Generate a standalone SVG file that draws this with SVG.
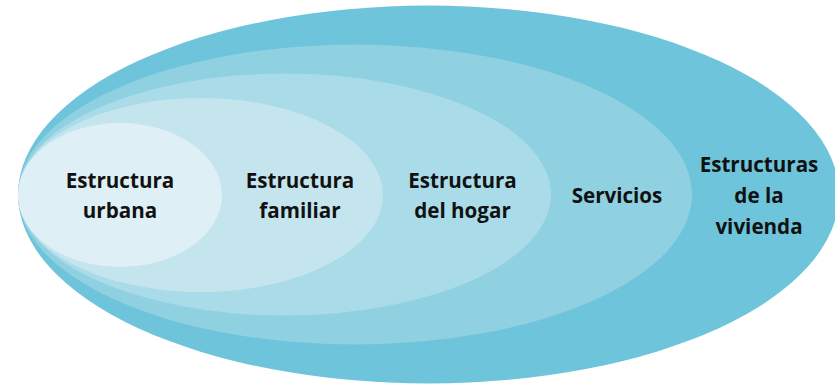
<svg xmlns="http://www.w3.org/2000/svg" width="835" height="385" viewBox="0 0 835 385">
<style>
.t{font-family:"Open Sans","Liberation Sans",sans-serif;font-weight:bold;font-size:20.6px;fill:#111;text-anchor:middle}
</style>
<rect width="835" height="385" fill="#fff"/>
<g id="vivienda">
<ellipse cx="428.5" cy="194.5" rx="410.5" ry="189" fill="#6ec4db"/>
<text class="t" x="759" y="172">Estructuras</text>
<text class="t" x="759" y="203">de la</text>
<text class="t" x="759" y="233.5">vivienda</text>
</g>
<g id="servicios">
<ellipse cx="355" cy="194.5" rx="337" ry="150" fill="#8fd0e1"/>
<text class="t" x="617" y="203">Servicios</text>
</g>
<g id="hogar">
<ellipse cx="284.5" cy="194.5" rx="266.5" ry="121" fill="#aadbe8"/>
<text class="t" x="462.5" y="187.5">Estructura</text>
<text class="t" x="462.5" y="217.5">del hogar</text>
</g>
<g id="familiar">
<ellipse cx="200.5" cy="195" rx="182.5" ry="97" fill="#c5e5ee"/>
<text class="t" x="300" y="188">Estructura</text>
<text class="t" x="300" y="218">familiar</text>
</g>
<g id="urbana">
<ellipse cx="120" cy="195" rx="102" ry="72" fill="#def0f5"/>
<text class="t" x="120" y="188">Estructura</text>
<text class="t" x="120" y="218">urbana</text>
</g>
<g id="connectors"/>
</svg>
